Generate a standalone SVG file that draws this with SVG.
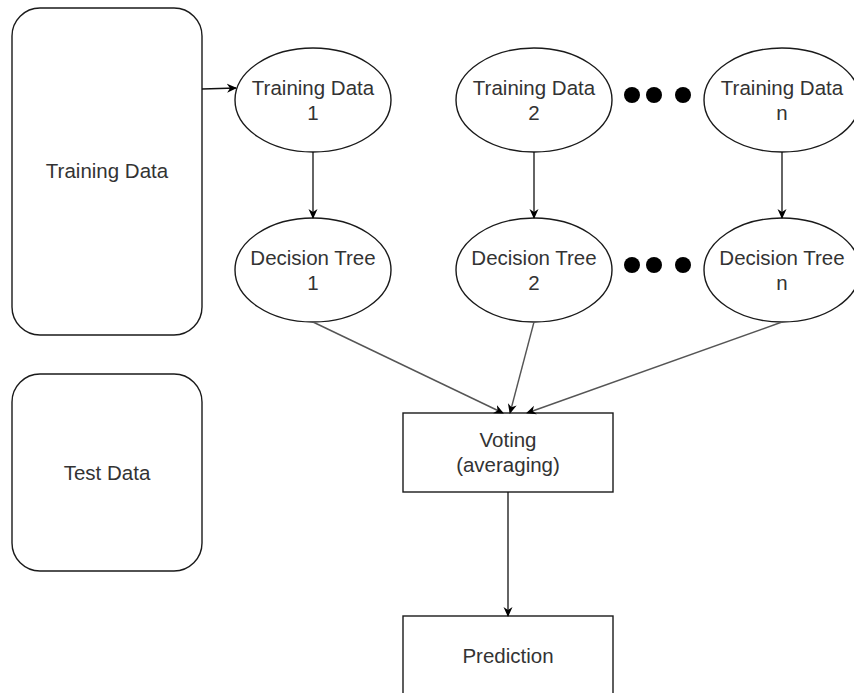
<svg xmlns="http://www.w3.org/2000/svg" width="854" height="693" viewBox="0 0 854 693">
  <style>
    .box { fill: #ffffff; stroke: #1a1a1a; stroke-width: 1.4; }
    .lbl { font-family: "Liberation Sans", Arial, sans-serif; font-size: 20.5px; fill: #333333; text-anchor: middle; }
    .edge { fill: none; stroke: #111111; stroke-width: 1.3; }
    .edge-soft { fill: none; stroke: #555555; stroke-width: 1.4; }
    .dot { fill: #000000; }
  </style>
  <defs>
    <marker id="arrow" viewBox="0 0 10 10" refX="9" refY="5" markerWidth="10" markerHeight="10" markerUnits="userSpaceOnUse" orient="auto">
      <path d="M0,0.5 L10,5 L0,9.5 L3,5 Z" fill="#000000"/>
    </marker>
  </defs>
  <rect width="854" height="693" fill="#ffffff"/>

  <!-- data sources -->
  <g id="training-data">
    <rect class="box" x="12" y="8" width="190" height="327" rx="28" ry="28"/>
    <text class="lbl" x="107" y="178">Training Data</text>
  </g>
  <g id="test-data">
    <rect class="box" x="12" y="374" width="190" height="197" rx="28" ry="28"/>
    <text class="lbl" x="107" y="480">Test Data</text>
  </g>

  <!-- bootstrap samples -->
  <g id="training-data-1">
    <ellipse class="box" cx="313" cy="100" rx="78" ry="52"/>
    <text class="lbl" x="313" y="95">Training Data</text>
    <text class="lbl" x="313" y="120">1</text>
  </g>
  <g id="training-data-2">
    <ellipse class="box" cx="534" cy="100" rx="78" ry="52"/>
    <text class="lbl" x="534" y="95">Training Data</text>
    <text class="lbl" x="534" y="120">2</text>
  </g>
  <g id="training-data-n">
    <ellipse class="box" cx="782" cy="100" rx="78" ry="52"/>
    <text class="lbl" x="782" y="95">Training Data</text>
    <text class="lbl" x="782" y="120">n</text>
  </g>

  <!-- trees -->
  <g id="decision-tree-1">
    <ellipse class="box" cx="313" cy="270" rx="78" ry="52"/>
    <text class="lbl" x="313" y="265">Decision Tree</text>
    <text class="lbl" x="313" y="290">1</text>
  </g>
  <g id="decision-tree-2">
    <ellipse class="box" cx="534" cy="270" rx="78" ry="52"/>
    <text class="lbl" x="534" y="265">Decision Tree</text>
    <text class="lbl" x="534" y="290">2</text>
  </g>
  <g id="decision-tree-n">
    <ellipse class="box" cx="782" cy="270" rx="78" ry="52"/>
    <text class="lbl" x="782" y="265">Decision Tree</text>
    <text class="lbl" x="782" y="290">n</text>
  </g>

  <!-- ellipsis dots between columns -->
  <g id="ellipsis-top">
    <circle class="dot" cx="632" cy="95" r="8"/>
    <circle class="dot" cx="654" cy="95" r="8"/>
    <circle class="dot" cx="683" cy="95" r="8"/>
  </g>
  <g id="ellipsis-bottom">
    <circle class="dot" cx="632" cy="265" r="8"/>
    <circle class="dot" cx="654" cy="265" r="8"/>
    <circle class="dot" cx="683" cy="265" r="8"/>
  </g>

  <!-- aggregation -->
  <g id="voting">
    <rect class="box" x="403" y="413" width="210" height="79"/>
    <text class="lbl" x="508" y="447">Voting</text>
    <text class="lbl" x="508" y="472">(averaging)</text>
  </g>
  <g id="prediction">
    <rect class="box" x="403" y="616" width="210" height="100"/>
    <text class="lbl" x="508" y="663">Prediction</text>
  </g>

  <!-- connectors -->
  <g id="connectors">
    <path class="edge" d="M202,89 L236,88" marker-end="url(#arrow)"/>
    <path class="edge" d="M313,152 L313,218" marker-end="url(#arrow)"/>
    <path class="edge" d="M534,152 L534,218" marker-end="url(#arrow)"/>
    <path class="edge" d="M782,152 L782,218" marker-end="url(#arrow)"/>
    <path class="edge-soft" d="M313,322 L503,413" marker-end="url(#arrow)"/>
    <path class="edge-soft" d="M534,322 L510,413" marker-end="url(#arrow)"/>
    <path class="edge-soft" d="M782,322 L527,413" marker-end="url(#arrow)"/>
    <path class="edge" d="M508,492 L508,616" marker-end="url(#arrow)"/>
  </g>
</svg>
